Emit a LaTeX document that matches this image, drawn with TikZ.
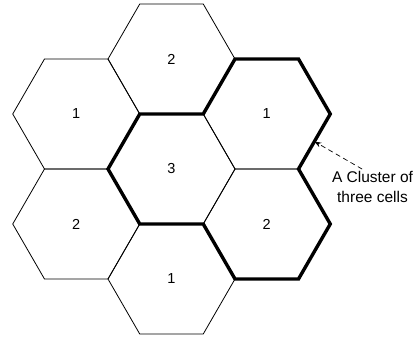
\documentclass[tikz,border=0pt]{standalone}
\usepackage{fontspec}
\setmainfont{Liberation Sans}
\usetikzlibrary{arrows.meta,positioning,shapes.geometric}

\begin{document}
\begin{tikzpicture}[
  x=1pt, y=1pt,
  cell/.style={draw, regular polygon, regular polygon sides=6,
    minimum size=127pt, inner sep=0pt, outer sep=0pt, line width=0.8pt,
    font=\fontsize{14.5}{17}\selectfont},
  cluster/.style={line width=3.4pt, line join=miter},
  note/.style={align=center, inner sep=2pt,
    font=\fontsize{15.5}{20}\selectfont},
  arr/.style={-{Stealth[length=7pt, width=5pt]}, dash pattern=on 5pt off 3.5pt,
    line width=0.7pt}
]
  \useasboundingbox (-171.5,-169) rectangle (243.5,169);

  \node[cell] (mid) at (0,0) {3};
  \node[cell] (top) at (90:110) {2};
  \node[cell] (upleft) at (150:110) {1};
  \node[cell] (lowleft) at (210:110) {2};
  \node[cell] (bottom) at (270:110) {1};
  \node[cell] (lowright) at (330:110) {2};
  \node[cell] (upright) at (30:110) {1};

  \draw[cluster] (mid.180) -- (mid.120) -- (mid.60) -- (upright.120)
    -- (upright.60) -- (upright.0) -- (upright.300) -- (lowright.0)
    -- (lowright.300) -- (lowright.240) -- (mid.300) -- (mid.240) -- cycle;

  \node[note] (note) at (201,-18) {A Cluster of\\three cells};
  \draw[arr] (note.120) -- (upright.330);
\end{tikzpicture}
\end{document}
